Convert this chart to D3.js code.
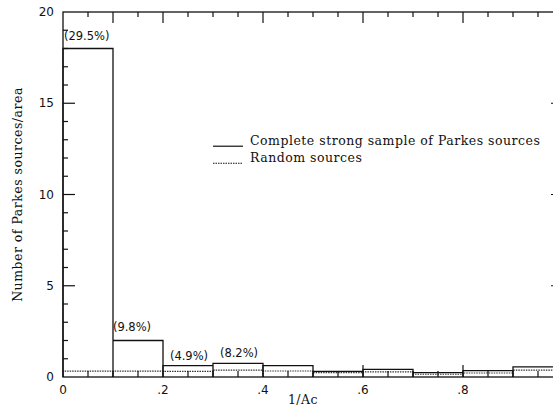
<!DOCTYPE html>
<html lang="en">
<head>
<meta charset="UTF-8">
<title>Parkes sources histogram</title>
<script src="https://d3js.org/d3.v7.min.js"></script>
<style>
  body { margin: 0; background: #fff; }
  text { fill: #111; }
  .tick-label { font-family: "DejaVu Sans", sans-serif; font-size: 12px; }
  .note { font-family: "DejaVu Sans", sans-serif; font-size: 11.5px; }
  .legend, .axis-title { font-family: "DejaVu Serif", serif; font-size: 12.5px; letter-spacing: 0.5px; }
</style>
</head>
<body>
<div id="chart"></div>
<script>
// bin edges along 1/Ac
const binStarts = [0, 0.1, 0.2, 0.3, 0.4, 0.5, 0.6, 0.7, 0.8, 0.9];
const binWidth = 0.1;
// complete strong sample of Parkes sources (solid)
const parkesValues = [18, 2, 0.62, 0.75, 0.62, 0.31, 0.42, 0.24, 0.35, 0.56];
// random sources (dotted)
const randomValues = [0.32, 0.32, 0.31, 0.38, 0.33, 0.24, 0.28, 0.15, 0.22, 0.38];
// percentage notes over the first bins
const notes = [
  {bin: 0, text: "(29.5%)"},
  {bin: 1, text: "(9.8%)"},
  {bin: 2, text: "(4.9%)"},
  {bin: 3, text: "(8.2%)"}
];
const xTickLabels = [[0, "0"], [0.2, ".2"], [0.4, ".4"], [0.6, ".6"], [0.8, ".8"]];
const yTickValues = [0, 5, 10, 15, 20];
const legendItems = ["Complete strong sample of Parkes sources", "Random sources"];

const W = 553, H = 406;
const margin = {top: 12, right: -10, bottom: 29, left: 63};
const width = W - margin.left - margin.right,
      height = H - margin.top - margin.bottom;

const svg = d3.select("#chart").append("svg")
    .attr("width", W).attr("height", H);
const g = svg.append("g").attr("transform", `translate(${margin.left},${margin.top})`);

const x = d3.scaleLinear().domain([0, 1]).range([0, width]);
const y = d3.scaleLinear().domain([0, 20]).range([height, 0]);

// step outline for a histogram
function stepPath(vals) {
  const pts = [[x(binStarts[0]), y(0)]];
  vals.forEach((v, i) => {
    pts.push([x(binStarts[i]), y(v)]);
    pts.push([x(binStarts[i] + binWidth), y(v)]);
  });
  pts.push([x(binStarts[binStarts.length - 1] + binWidth), y(0)]);
  return d3.line()(pts);
}
// vertical dividers between bins
function dividers(vals) {
  return binStarts.slice(1).map((b, i) => {
    const top = Math.max(vals[i], vals[i + 1]);
    return d3.line()([[x(b), y(0)], [x(b), y(top)]]);
  }).join("");
}

g.append("path").attr("d", stepPath(randomValues) + dividers(randomValues))
  .attr("fill", "none").attr("stroke", "#333").attr("stroke-width", 1.2)
  .attr("stroke-dasharray", "1.5,1");
g.append("path").attr("d", stepPath(parkesValues) + dividers(parkesValues))
  .attr("fill", "none").attr("stroke", "#111").attr("stroke-width", 1.3);

// frame
g.append("rect").attr("x", 0).attr("y", 0).attr("width", width).attr("height", height)
  .attr("fill", "none").attr("stroke", "#111").attr("stroke-width", 1.3);

// axes ticks
const xMinor = d3.range(0.05, 1, 0.05).map(v => +v.toFixed(2));
const isMajor = v => Math.abs(v * 5 - Math.round(v * 5)) < 1e-6;
const ticks = g.append("g").attr("stroke", "#111").attr("stroke-width", 1.2);
xMinor.forEach(v => {
  const bLen = isMajor(v) ? 12 : 6;
  const tLen = (isMajor(v) || Math.abs(v - 0.1) < 1e-6) ? 11 : 5;
  ticks.append("line").attr("x1", x(v)).attr("x2", x(v)).attr("y1", height).attr("y2", height - bLen);
  ticks.append("line").attr("x1", x(v)).attr("x2", x(v)).attr("y1", 0).attr("y2", tLen);
});
d3.range(1, 20).forEach(v => {
  const len = v % 5 === 0 ? 12 : 5;
  ticks.append("line").attr("x1", 0).attr("x2", len).attr("y1", y(v)).attr("y2", y(v));
  ticks.append("line").attr("x1", width).attr("x2", width - len).attr("y1", y(v)).attr("y2", y(v));
});

// tick labels
g.selectAll(".ytl").data(yTickValues).enter().append("text")
  .attr("class", "tick-label").attr("x", -9).attr("y", d => y(d) + 4)
  .attr("text-anchor", "end").text(d => d);
g.selectAll(".xtl").data(xTickLabels).enter().append("text")
  .attr("class", "tick-label").attr("x", d => x(d[0])).attr("y", height + 17)
  .attr("text-anchor", "middle").text(d => d[1]);

// axis titles
g.append("text").attr("class", "axis-title")
  .attr("x", x(0.48)).attr("y", height + 27).attr("text-anchor", "middle").text("1/Ac");
svg.append("text").attr("class", "axis-title")
  .attr("transform", `translate(22,${margin.top + y(10)}) rotate(-90)`)
  .attr("text-anchor", "middle").text("Number of Parkes sources/area");

// notes
const noteX = [x(0) + 1, x(0.138), x(0.252), x(0.352)];
const noteDy = [-9, -10, -6, -6];
notes.forEach((n, i) => {
  g.append("text").attr("class", "note")
    .attr("x", noteX[i]).attr("y", y(parkesValues[n.bin]) + noteDy[i])
    .attr("text-anchor", i === 0 ? "start" : "middle").text(n.text);
});

// legend
const lg = g.append("g").attr("transform", `translate(${x(0.3)},${y(12.7)})`);
legendItems.forEach((t, i) => {
  lg.append("line").attr("x1", 0).attr("x2", 30).attr("y1", i * 17 + 1).attr("y2", i * 17 + 1)
    .attr("stroke", "#111").attr("stroke-width", 1.2)
    .attr("stroke-dasharray", i === 1 ? "1.5,1" : null);
  lg.append("text").attr("class", "legend").attr("x", 37).attr("y", i * 17).text(t);
});
</script>
</body>
</html>
